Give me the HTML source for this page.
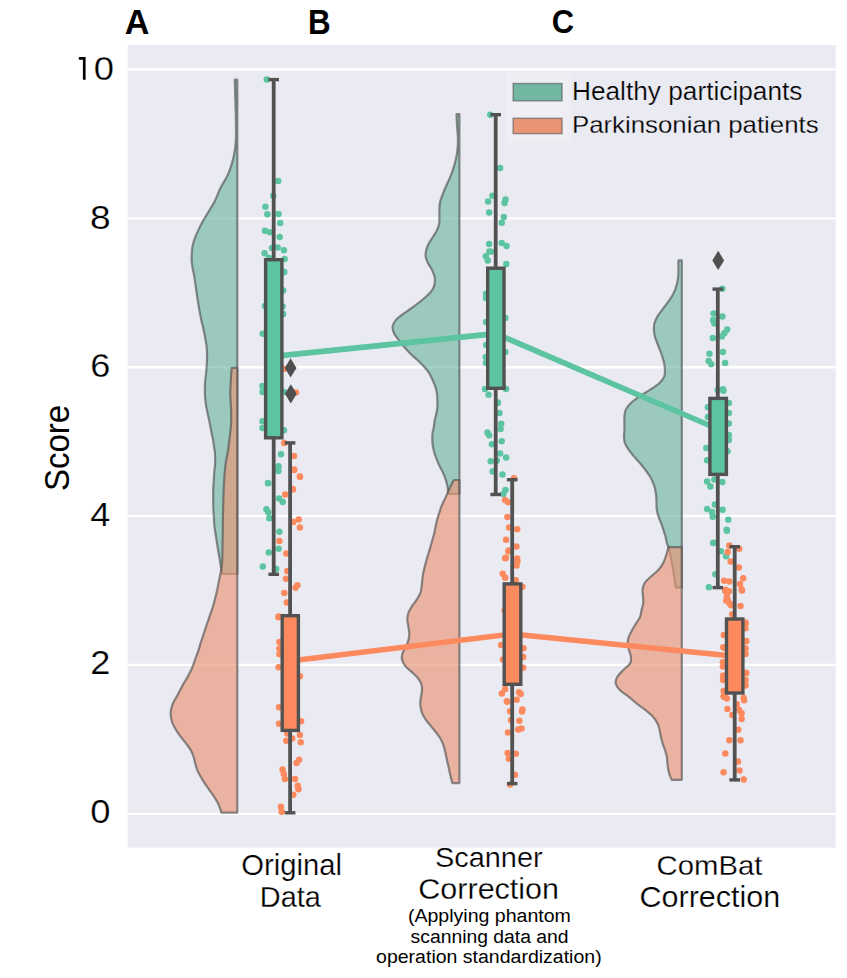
<!DOCTYPE html><html><head><meta charset="utf-8"><style>html,body{margin:0;padding:0;background:#fff;}svg{display:block;font-family:"Liberation Sans",sans-serif;font-kerning:none;}text{font-kerning:none;}</style></head><body>
<svg width="847" height="978" viewBox="0 0 847 978">
<rect x="0" y="0" width="847" height="978" fill="#fff"/>
<rect x="127.7" y="45" width="708.1" height="802.7" fill="#EAEAF2"/>
<line x1="127.7" x2="835.8" y1="813.80" y2="813.80" stroke="#fff" stroke-width="2.35"/>
<line x1="127.7" x2="835.8" y1="664.94" y2="664.94" stroke="#fff" stroke-width="2.35"/>
<line x1="127.7" x2="835.8" y1="516.08" y2="516.08" stroke="#fff" stroke-width="2.35"/>
<line x1="127.7" x2="835.8" y1="367.22" y2="367.22" stroke="#fff" stroke-width="2.35"/>
<line x1="127.7" x2="835.8" y1="218.36" y2="218.36" stroke="#fff" stroke-width="2.35"/>
<line x1="127.7" x2="835.8" y1="69.50" y2="69.50" stroke="#fff" stroke-width="2.35"/>
<path d="M237.30,79.70 L234.80,79.70 C234.87,82.25 235.03,89.12 235.20,95.00 C235.37,100.88 235.67,108.33 235.80,115.00 C235.93,121.67 236.10,129.50 236.00,135.00 C235.90,140.50 235.78,143.60 235.20,148.00 C234.62,152.40 233.72,156.95 232.50,161.40 C231.28,165.85 229.90,170.27 227.90,174.70 C225.90,179.13 222.72,183.52 220.50,188.00 C218.28,192.48 216.25,198.22 214.60,201.60 C212.95,204.98 211.93,206.08 210.60,208.30 C209.27,210.52 207.93,212.68 206.60,214.90 C205.27,217.12 203.82,219.38 202.60,221.60 C201.38,223.82 200.37,225.98 199.30,228.20 C198.23,230.42 197.13,232.68 196.20,234.90 C195.27,237.12 194.37,239.28 193.70,241.50 C193.03,243.72 192.53,245.98 192.20,248.20 C191.87,250.42 191.78,252.58 191.70,254.80 C191.62,257.02 191.55,259.28 191.70,261.50 C191.85,263.72 192.22,265.88 192.60,268.10 C192.98,270.32 193.60,272.58 194.00,274.80 C194.40,277.02 194.67,279.20 195.00,281.40 C195.33,283.60 195.68,285.78 196.00,288.00 C196.32,290.22 196.58,292.48 196.90,294.70 C197.22,296.92 197.55,299.08 197.90,301.30 C198.25,303.52 198.62,305.78 199.00,308.00 C199.38,310.22 199.77,312.35 200.20,314.60 C200.63,316.85 201.15,319.50 201.60,321.50 C202.05,323.50 202.45,324.63 202.90,326.60 C203.35,328.57 203.87,331.08 204.30,333.30 C204.73,335.52 205.12,337.68 205.50,339.90 C205.88,342.12 206.35,344.38 206.60,346.60 C206.85,348.82 206.93,350.98 207.00,353.20 C207.07,355.42 207.07,357.68 207.00,359.90 C206.93,362.12 206.75,364.28 206.60,366.50 C206.45,368.72 206.32,370.98 206.10,373.20 C205.88,375.42 205.50,377.58 205.30,379.80 C205.10,382.02 204.97,384.28 204.90,386.50 C204.83,388.72 204.83,390.88 204.90,393.10 C204.97,395.32 205.08,397.58 205.30,399.80 C205.52,402.02 205.83,404.20 206.20,406.40 C206.57,408.60 207.03,410.78 207.50,413.00 C207.97,415.22 208.53,417.48 209.00,419.70 C209.47,421.92 209.87,424.08 210.30,426.30 C210.73,428.52 211.15,430.78 211.60,433.00 C212.05,435.22 212.58,437.27 213.00,439.60 C213.42,441.93 213.80,445.00 214.10,447.00 C214.40,449.00 214.62,449.72 214.80,451.60 C214.98,453.48 215.17,456.08 215.20,458.30 C215.23,460.52 215.15,462.68 215.00,464.90 C214.85,467.12 214.48,469.38 214.30,471.60 C214.12,473.82 214.03,475.98 213.90,478.20 C213.77,480.42 213.62,482.68 213.50,484.90 C213.38,487.12 213.25,489.28 213.20,491.50 C213.15,493.72 213.20,495.98 213.20,498.20 C213.20,500.42 213.15,502.58 213.20,504.80 C213.25,507.02 213.38,509.28 213.50,511.50 C213.62,513.72 213.77,515.88 213.90,518.10 C214.03,520.32 214.08,522.58 214.30,524.80 C214.52,527.02 214.88,529.20 215.20,531.40 C215.52,533.60 215.87,535.78 216.20,538.00 C216.53,540.22 216.85,542.48 217.20,544.70 C217.55,546.92 217.92,549.08 218.30,551.30 C218.68,553.52 219.13,555.78 219.50,558.00 C219.87,560.22 220.17,562.60 220.50,564.60 C220.83,566.60 221.25,568.43 221.50,570.00 C221.75,571.57 221.92,573.33 222.00,574.00 L237.30,574.00 Z" fill="#71B7A1" fill-opacity="0.65" stroke="#525252" stroke-opacity="0.65" stroke-width="2.2" stroke-linejoin="round"/>
<path d="M237.30,367.90 L231.80,367.90 C231.70,368.78 231.35,371.22 231.20,373.20 C231.05,375.18 231.02,377.58 230.90,379.80 C230.78,382.02 230.62,384.28 230.50,386.50 C230.38,388.72 230.20,390.88 230.20,393.10 C230.20,395.32 230.38,397.58 230.50,399.80 C230.62,402.02 230.78,404.20 230.90,406.40 C231.02,408.60 231.15,410.78 231.20,413.00 C231.25,415.22 231.25,417.48 231.20,419.70 C231.15,421.92 231.07,424.08 230.90,426.30 C230.73,428.52 230.45,430.78 230.20,433.00 C229.95,435.22 229.67,437.43 229.40,439.60 C229.13,441.77 228.85,444.00 228.60,446.00 C228.35,448.00 228.25,449.55 227.90,451.60 C227.55,453.65 226.90,456.08 226.50,458.30 C226.10,460.52 225.78,462.68 225.50,464.90 C225.22,467.12 225.00,469.38 224.80,471.60 C224.60,473.82 224.45,475.98 224.30,478.20 C224.15,480.42 224.02,482.68 223.90,484.90 C223.78,487.12 223.72,488.18 223.60,491.50 C223.48,494.82 223.32,500.37 223.20,504.80 C223.08,509.23 222.97,513.67 222.90,518.10 C222.83,522.53 222.87,526.97 222.80,531.40 C222.73,535.83 222.58,540.27 222.50,544.70 C222.42,549.13 222.40,554.68 222.30,558.00 C222.20,561.32 222.08,562.60 221.90,564.60 C221.72,566.60 221.55,567.98 221.20,570.00 C220.85,572.02 220.25,574.48 219.80,576.70 C219.35,578.92 218.93,581.08 218.50,583.30 C218.07,585.52 217.68,587.78 217.20,590.00 C216.72,592.22 216.15,594.38 215.60,596.60 C215.05,598.82 214.52,601.08 213.90,603.30 C213.28,605.52 212.63,607.68 211.90,609.90 C211.17,612.12 210.28,614.38 209.50,616.60 C208.72,618.82 207.95,620.98 207.20,623.20 C206.45,625.42 205.73,627.68 205.00,629.90 C204.27,632.12 203.53,634.28 202.80,636.50 C202.07,638.72 201.30,640.98 200.60,643.20 C199.90,645.42 199.33,647.58 198.60,649.80 C197.87,652.02 196.98,654.28 196.20,656.50 C195.42,658.72 194.72,660.88 193.90,663.10 C193.08,665.32 192.30,667.58 191.30,669.80 C190.30,672.02 189.13,674.18 187.90,676.40 C186.67,678.62 185.17,680.87 183.90,683.10 C182.63,685.33 181.52,687.53 180.30,689.80 C179.08,692.07 177.82,694.45 176.60,696.70 C175.38,698.95 173.93,701.08 173.00,703.30 C172.07,705.52 171.35,707.78 171.00,710.00 C170.65,712.22 170.63,714.38 170.90,716.60 C171.17,718.82 171.75,721.08 172.60,723.30 C173.45,725.52 174.67,727.68 176.00,729.90 C177.33,732.12 178.95,734.38 180.60,736.60 C182.25,738.82 184.23,740.98 185.90,743.20 C187.57,745.42 189.33,747.68 190.60,749.90 C191.87,752.12 192.73,754.28 193.50,756.50 C194.27,758.72 194.58,760.98 195.20,763.20 C195.82,765.42 196.30,767.58 197.20,769.80 C198.10,772.02 199.37,774.28 200.60,776.50 C201.83,778.72 203.17,780.88 204.60,783.10 C206.03,785.32 207.65,787.58 209.20,789.80 C210.75,792.02 212.45,794.18 213.90,796.40 C215.35,798.62 216.80,800.88 217.90,803.10 C219.00,805.32 219.95,808.12 220.50,809.70 C221.05,811.28 221.08,812.12 221.20,812.60 L237.30,812.60 Z" fill="#E99575" fill-opacity="0.65" stroke="#525252" stroke-opacity="0.65" stroke-width="2.2" stroke-linejoin="round"/>
<path d="M459.40,114.20 L456.50,114.20 C456.58,116.07 456.78,121.82 457.00,125.40 C457.22,128.98 457.67,132.28 457.80,135.70 C457.93,139.12 458.02,142.50 457.80,145.90 C457.58,149.30 457.13,152.70 456.50,156.10 C455.87,159.50 455.02,162.88 454.00,166.30 C452.98,169.72 451.77,173.18 450.40,176.60 C449.03,180.02 447.25,183.40 445.80,186.80 C444.35,190.20 442.70,194.25 441.70,197.00 C440.70,199.75 440.18,201.15 439.80,203.30 C439.42,205.45 439.47,207.68 439.40,209.90 C439.33,212.12 439.43,214.38 439.40,216.60 C439.37,218.82 439.57,221.00 439.20,223.20 C438.83,225.40 438.20,227.58 437.20,229.80 C436.20,232.02 434.57,234.28 433.20,236.50 C431.83,238.72 430.15,240.88 429.00,243.10 C427.85,245.32 426.87,247.58 426.30,249.80 C425.73,252.02 425.33,254.20 425.60,256.40 C425.87,258.60 426.85,260.78 427.90,263.00 C428.95,265.22 430.80,267.48 431.90,269.70 C433.00,271.92 434.02,274.08 434.50,276.30 C434.98,278.52 435.13,280.78 434.80,283.00 C434.47,285.22 433.88,287.38 432.50,289.60 C431.12,291.82 428.75,294.15 426.50,296.30 C424.25,298.45 421.58,300.47 419.00,302.50 C416.42,304.53 413.62,306.62 411.00,308.50 C408.38,310.38 405.80,311.90 403.30,313.80 C400.80,315.70 397.78,317.77 396.00,319.90 C394.22,322.03 392.93,324.38 392.60,326.60 C392.27,328.82 393.00,330.98 394.00,333.20 C395.00,335.42 396.95,337.68 398.60,339.90 C400.25,342.12 402.02,344.28 403.90,346.50 C405.78,348.72 407.68,350.98 409.90,353.20 C412.12,355.42 414.87,357.58 417.20,359.80 C419.53,362.02 421.90,364.28 423.90,366.50 C425.90,368.72 427.77,370.88 429.20,373.10 C430.63,375.32 431.50,377.58 432.50,379.80 C433.50,382.02 434.47,384.18 435.20,386.40 C435.93,388.62 436.53,390.88 436.90,393.10 C437.27,395.32 437.32,397.48 437.40,399.70 C437.48,401.92 437.55,404.18 437.40,406.40 C437.25,408.62 436.93,410.80 436.50,413.00 C436.07,415.20 435.23,417.33 434.80,419.60 C434.37,421.87 434.28,424.32 433.90,426.60 C433.52,428.88 432.77,431.08 432.50,433.30 C432.23,435.52 432.23,437.68 432.30,439.90 C432.37,442.12 432.53,444.38 432.90,446.60 C433.27,448.82 433.83,451.00 434.50,453.20 C435.17,455.40 436.02,457.58 436.90,459.80 C437.78,462.02 438.75,464.28 439.80,466.50 C440.85,468.72 442.20,470.88 443.20,473.10 C444.20,475.32 445.08,477.58 445.80,479.80 C446.52,482.02 447.12,484.42 447.50,486.40 C447.88,488.38 447.97,490.45 448.10,491.70 C448.23,492.95 448.27,493.53 448.30,493.90 L459.40,493.90 Z" fill="#71B7A1" fill-opacity="0.65" stroke="#525252" stroke-opacity="0.65" stroke-width="2.2" stroke-linejoin="round"/>
<path d="M459.40,480.00 L453.80,480.00 C453.25,481.07 451.45,484.45 450.50,486.40 C449.55,488.35 449.10,489.48 448.10,491.70 C447.10,493.92 445.62,497.27 444.50,499.70 C443.38,502.13 442.28,504.08 441.40,506.30 C440.52,508.52 439.90,510.78 439.20,513.00 C438.50,515.22 437.80,517.38 437.20,519.60 C436.60,521.82 436.08,524.08 435.60,526.30 C435.12,528.52 434.82,530.70 434.30,532.90 C433.78,535.10 433.13,537.22 432.50,539.50 C431.87,541.78 431.17,544.30 430.50,546.60 C429.83,548.90 429.17,551.08 428.50,553.30 C427.83,555.52 427.12,557.68 426.50,559.90 C425.88,562.12 425.35,564.38 424.80,566.60 C424.25,568.82 423.62,571.00 423.20,573.20 C422.78,575.40 422.57,577.58 422.30,579.80 C422.03,582.02 421.93,584.28 421.60,586.50 C421.27,588.72 421.13,590.88 420.30,593.10 C419.47,595.32 418.00,597.58 416.60,599.80 C415.20,602.02 413.28,604.20 411.90,606.40 C410.52,608.60 409.07,610.78 408.30,613.00 C407.53,615.22 407.30,617.48 407.30,619.70 C407.30,621.92 407.97,624.08 408.30,626.30 C408.63,628.52 409.25,630.78 409.30,633.00 C409.35,635.22 409.12,637.38 408.60,639.60 C408.08,641.82 407.20,644.08 406.20,646.30 C405.20,648.52 403.30,650.70 402.60,652.90 C401.90,655.10 401.52,657.25 402.00,659.50 C402.48,661.75 403.63,664.10 405.50,666.40 C407.37,668.70 410.92,671.05 413.20,673.30 C415.48,675.55 417.75,677.68 419.20,679.90 C420.65,682.12 421.50,684.38 421.90,686.60 C422.30,688.82 421.83,691.00 421.60,693.20 C421.37,695.40 420.68,697.58 420.50,699.80 C420.32,702.02 420.23,704.28 420.50,706.50 C420.77,708.72 421.20,710.88 422.10,713.10 C423.00,715.32 424.38,717.58 425.90,719.80 C427.42,722.02 429.43,724.20 431.20,726.40 C432.97,728.60 434.85,730.78 436.50,733.00 C438.15,735.22 439.88,737.48 441.10,739.70 C442.32,741.92 443.07,744.08 443.80,746.30 C444.53,748.52 445.00,750.78 445.50,753.00 C446.00,755.22 446.32,757.38 446.80,759.60 C447.28,761.82 447.90,764.08 448.40,766.30 C448.90,768.52 449.30,770.70 449.80,772.90 C450.30,775.10 450.97,777.80 451.40,779.50 C451.83,781.20 452.23,782.50 452.40,783.10 L459.40,783.10 Z" fill="#E99575" fill-opacity="0.65" stroke="#525252" stroke-opacity="0.65" stroke-width="2.2" stroke-linejoin="round"/>
<path d="M681.80,260.40 L678.40,260.40 C678.40,261.98 678.43,267.20 678.40,269.90 C678.37,272.60 678.42,274.38 678.20,276.60 C677.98,278.82 677.62,281.00 677.10,283.20 C676.58,285.40 675.98,287.58 675.10,289.80 C674.22,292.02 673.12,294.28 671.80,296.50 C670.48,298.72 668.80,300.88 667.20,303.10 C665.60,305.32 663.82,307.58 662.20,309.80 C660.58,312.02 658.78,314.20 657.50,316.40 C656.22,318.60 655.10,320.78 654.50,323.00 C653.90,325.22 653.85,327.48 653.90,329.70 C653.95,331.92 654.25,334.08 654.80,336.30 C655.35,338.52 656.37,340.78 657.20,343.00 C658.03,345.22 658.97,347.38 659.80,349.60 C660.63,351.82 661.48,354.08 662.20,356.30 C662.92,358.52 663.65,360.70 664.10,362.90 C664.55,365.10 664.88,367.22 664.90,369.50 C664.92,371.78 665.15,374.30 664.20,376.60 C663.25,378.90 661.58,381.08 659.20,383.30 C656.82,385.52 653.23,387.68 649.90,389.90 C646.57,392.12 642.42,394.38 639.20,396.60 C635.98,398.82 632.85,400.98 630.60,403.20 C628.35,405.42 626.73,407.68 625.70,409.90 C624.67,412.12 624.62,414.28 624.40,416.50 C624.18,418.72 624.40,420.98 624.40,423.20 C624.40,425.42 624.47,427.60 624.40,429.80 C624.33,432.00 623.92,434.18 624.00,436.40 C624.08,438.62 624.13,440.88 624.90,443.10 C625.67,445.32 627.10,447.48 628.60,449.70 C630.10,451.92 632.02,454.18 633.90,456.40 C635.78,458.62 638.02,460.78 639.90,463.00 C641.78,465.22 643.53,467.48 645.20,469.70 C646.87,471.92 648.57,474.08 649.90,476.30 C651.23,478.52 652.32,480.78 653.20,483.00 C654.08,485.22 654.70,487.33 655.20,489.60 C655.70,491.87 655.98,494.32 656.20,496.60 C656.42,498.88 656.40,501.08 656.50,503.30 C656.60,505.52 656.47,507.68 656.80,509.90 C657.13,512.12 657.77,514.38 658.50,516.60 C659.23,518.82 660.38,520.98 661.20,523.20 C662.02,525.42 662.68,527.68 663.40,529.90 C664.12,532.12 664.92,534.28 665.50,536.50 C666.08,538.72 666.40,541.43 666.90,543.20 C667.40,544.97 667.90,544.90 668.50,547.10 C669.10,549.30 669.73,552.63 670.50,556.40 C671.27,560.17 672.33,565.27 673.10,569.70 C673.87,574.13 674.65,580.00 675.10,583.00 C675.55,586.00 675.68,586.92 675.80,587.70 L681.80,587.70 Z" fill="#71B7A1" fill-opacity="0.65" stroke="#525252" stroke-opacity="0.65" stroke-width="2.2" stroke-linejoin="round"/>
<path d="M681.80,547.10 L668.50,547.10 C668.05,548.65 666.68,553.73 665.80,556.40 C664.92,559.07 664.42,560.88 663.20,563.10 C661.98,565.32 660.50,567.48 658.50,569.70 C656.50,571.92 653.52,574.18 651.20,576.40 C648.88,578.62 646.03,580.78 644.60,583.00 C643.17,585.22 642.87,587.48 642.60,589.70 C642.33,591.92 642.90,594.08 643.00,596.30 C643.10,598.52 643.43,600.75 643.20,603.00 C642.97,605.25 642.10,607.53 641.60,609.80 C641.10,612.07 641.10,614.35 640.20,616.60 C639.30,618.85 637.53,621.08 636.20,623.30 C634.87,625.52 633.42,627.68 632.20,629.90 C630.98,632.12 629.67,634.38 628.90,636.60 C628.13,638.82 627.60,640.98 627.60,643.20 C627.60,645.42 628.35,647.68 628.90,649.90 C629.45,652.12 630.68,654.28 630.90,656.50 C631.12,658.72 631.42,660.98 630.20,663.20 C628.98,665.42 625.70,667.60 623.60,669.80 C621.50,672.00 618.93,674.18 617.60,676.40 C616.27,678.62 615.27,680.88 615.60,683.10 C615.93,685.32 617.48,687.48 619.60,689.70 C621.72,691.92 625.57,694.18 628.30,696.40 C631.03,698.62 633.22,700.78 636.00,703.00 C638.78,705.22 642.25,707.48 645.00,709.70 C647.75,711.92 650.45,714.08 652.50,716.30 C654.55,718.52 656.13,720.78 657.30,723.00 C658.47,725.22 658.92,727.33 659.50,729.60 C660.08,731.87 660.30,734.37 660.80,736.60 C661.30,738.83 661.80,740.77 662.50,743.00 C663.20,745.23 664.28,747.75 665.00,750.00 C665.72,752.25 666.40,754.33 666.80,756.50 C667.20,758.67 667.15,760.78 667.40,763.00 C667.65,765.22 667.90,767.72 668.30,769.80 C668.70,771.88 669.22,773.83 669.80,775.50 C670.38,777.17 671.47,779.08 671.80,779.80 L681.80,779.80 Z" fill="#E99575" fill-opacity="0.65" stroke="#525252" stroke-opacity="0.65" stroke-width="2.2" stroke-linejoin="round"/>
<g fill="#5DC4A1">
<circle cx="266.8" cy="79.6" r="3.25"/>
<circle cx="278.2" cy="181.0" r="3.25"/>
<circle cx="273.2" cy="195.8" r="3.25"/>
<circle cx="265.4" cy="206.7" r="3.25"/>
<circle cx="267.4" cy="214.3" r="3.25"/>
<circle cx="278.5" cy="213.9" r="3.25"/>
<circle cx="280.2" cy="222.9" r="3.25"/>
<circle cx="265.0" cy="230.7" r="3.25"/>
<circle cx="269.9" cy="232.3" r="3.25"/>
<circle cx="279.7" cy="236.9" r="3.25"/>
<circle cx="272.0" cy="247.9" r="3.25"/>
<circle cx="277.7" cy="247.4" r="3.25"/>
<circle cx="283.9" cy="250.3" r="3.25"/>
<circle cx="264.6" cy="253.3" r="3.25"/>
<circle cx="269.0" cy="257.7" r="3.25"/>
<circle cx="284.6" cy="259.0" r="3.25"/>
<circle cx="284.3" cy="272.1" r="3.25"/>
<circle cx="283.1" cy="290.4" r="3.25"/>
<circle cx="265.0" cy="306.0" r="3.25"/>
<circle cx="282.6" cy="306.4" r="3.25"/>
<circle cx="283.1" cy="314.1" r="3.25"/>
<circle cx="262.7" cy="333.7" r="3.25"/>
<circle cx="262.5" cy="386.0" r="3.25"/>
<circle cx="262.5" cy="392.0" r="3.25"/>
<circle cx="283.9" cy="392.0" r="3.25"/>
<circle cx="262.5" cy="421.3" r="3.25"/>
<circle cx="262.5" cy="428.0" r="3.25"/>
<circle cx="283.9" cy="430.3" r="3.25"/>
<circle cx="281.0" cy="454.3" r="3.25"/>
<circle cx="278.5" cy="466.3" r="3.25"/>
<circle cx="278.3" cy="471.0" r="3.25"/>
<circle cx="268.2" cy="483.2" r="3.25"/>
<circle cx="278.1" cy="470.0" r="3.25"/>
<circle cx="268.0" cy="483.1" r="3.25"/>
<circle cx="279.1" cy="498.6" r="3.25"/>
<circle cx="282.7" cy="501.9" r="3.25"/>
<circle cx="266.4" cy="509.3" r="3.25"/>
<circle cx="268.3" cy="512.2" r="3.25"/>
<circle cx="269.3" cy="518.2" r="3.25"/>
<circle cx="279.4" cy="531.8" r="3.25"/>
<circle cx="278.6" cy="548.8" r="3.25"/>
<circle cx="268.8" cy="552.6" r="3.25"/>
<circle cx="262.8" cy="566.5" r="3.25"/>
<circle cx="276.2" cy="569.0" r="3.25"/>
<circle cx="490.3" cy="114.7" r="3.25"/>
<circle cx="500.1" cy="167.9" r="3.25"/>
<circle cx="492.4" cy="195.7" r="3.25"/>
<circle cx="488.1" cy="201.4" r="3.25"/>
<circle cx="505.5" cy="199.4" r="3.25"/>
<circle cx="504.5" cy="203.0" r="3.25"/>
<circle cx="489.1" cy="212.5" r="3.25"/>
<circle cx="503.8" cy="216.9" r="3.25"/>
<circle cx="501.7" cy="222.7" r="3.25"/>
<circle cx="489.1" cy="243.9" r="3.25"/>
<circle cx="501.7" cy="243.1" r="3.25"/>
<circle cx="506.6" cy="246.1" r="3.25"/>
<circle cx="491.1" cy="251.8" r="3.25"/>
<circle cx="485.8" cy="256.2" r="3.25"/>
<circle cx="489.4" cy="251.6" r="3.25"/>
<circle cx="487.8" cy="260.6" r="3.25"/>
<circle cx="506.3" cy="263.9" r="3.25"/>
<circle cx="486.0" cy="293.8" r="3.25"/>
<circle cx="486.0" cy="298.0" r="3.25"/>
<circle cx="505.3" cy="317.9" r="3.25"/>
<circle cx="486.2" cy="322.0" r="3.25"/>
<circle cx="486.2" cy="345.0" r="3.25"/>
<circle cx="485.8" cy="357.1" r="3.25"/>
<circle cx="486.0" cy="363.0" r="3.25"/>
<circle cx="505.3" cy="352.0" r="3.25"/>
<circle cx="488.6" cy="394.8" r="3.25"/>
<circle cx="497.6" cy="402.9" r="3.25"/>
<circle cx="485.0" cy="389.0" r="3.25"/>
<circle cx="506.0" cy="389.0" r="3.25"/>
<circle cx="497.9" cy="402.5" r="3.25"/>
<circle cx="499.3" cy="413.1" r="3.25"/>
<circle cx="501.2" cy="423.7" r="3.25"/>
<circle cx="500.6" cy="429.1" r="3.25"/>
<circle cx="487.5" cy="432.4" r="3.25"/>
<circle cx="489.1" cy="435.2" r="3.25"/>
<circle cx="501.7" cy="441.2" r="3.25"/>
<circle cx="491.9" cy="444.2" r="3.25"/>
<circle cx="500.1" cy="453.6" r="3.25"/>
<circle cx="506.1" cy="457.6" r="3.25"/>
<circle cx="490.7" cy="461.3" r="3.25"/>
<circle cx="496.8" cy="460.5" r="3.25"/>
<circle cx="492.7" cy="471.6" r="3.25"/>
<circle cx="502.5" cy="474.4" r="3.25"/>
<circle cx="505.5" cy="490.0" r="3.25"/>
<circle cx="503.3" cy="494.0" r="3.25"/>
<circle cx="722.3" cy="288.7" r="3.25"/>
<circle cx="713.6" cy="313.6" r="3.25"/>
<circle cx="722.3" cy="316.5" r="3.25"/>
<circle cx="713.1" cy="320.1" r="3.25"/>
<circle cx="714.4" cy="323.4" r="3.25"/>
<circle cx="727.2" cy="329.6" r="3.25"/>
<circle cx="724.3" cy="333.2" r="3.25"/>
<circle cx="721.8" cy="336.5" r="3.25"/>
<circle cx="712.8" cy="338.1" r="3.25"/>
<circle cx="709.5" cy="353.7" r="3.25"/>
<circle cx="722.9" cy="352.0" r="3.25"/>
<circle cx="708.7" cy="361.0" r="3.25"/>
<circle cx="711.2" cy="364.3" r="3.25"/>
<circle cx="725.1" cy="363.0" r="3.25"/>
<circle cx="722.9" cy="389.2" r="3.25"/>
<circle cx="717.7" cy="390.1" r="3.25"/>
<circle cx="723.4" cy="390.8" r="3.25"/>
<circle cx="707.9" cy="407.2" r="3.25"/>
<circle cx="728.8" cy="403.1" r="3.25"/>
<circle cx="728.8" cy="412.9" r="3.25"/>
<circle cx="707.9" cy="417.0" r="3.25"/>
<circle cx="728.8" cy="423.5" r="3.25"/>
<circle cx="728.8" cy="435.0" r="3.25"/>
<circle cx="728.8" cy="439.9" r="3.25"/>
<circle cx="706.3" cy="448.1" r="3.25"/>
<circle cx="727.5" cy="451.3" r="3.25"/>
<circle cx="707.1" cy="460.3" r="3.25"/>
<circle cx="707.1" cy="481.6" r="3.25"/>
<circle cx="710.4" cy="486.5" r="3.25"/>
<circle cx="714.4" cy="479.6" r="3.25"/>
<circle cx="722.3" cy="481.9" r="3.25"/>
<circle cx="714.8" cy="504.5" r="3.25"/>
<circle cx="707.1" cy="509.1" r="3.25"/>
<circle cx="712.0" cy="511.9" r="3.25"/>
<circle cx="722.6" cy="509.7" r="3.25"/>
<circle cx="712.8" cy="516.8" r="3.25"/>
<circle cx="728.3" cy="519.7" r="3.25"/>
<circle cx="726.7" cy="529.8" r="3.25"/>
<circle cx="713.6" cy="542.9" r="3.25"/>
<circle cx="726.9" cy="530.8" r="3.25"/>
<circle cx="713.3" cy="542.8" r="3.25"/>
<circle cx="720.8" cy="551.3" r="3.25"/>
<circle cx="726.1" cy="556.2" r="3.25"/>
<circle cx="715.4" cy="574.2" r="3.25"/>
<circle cx="708.9" cy="587.2" r="3.25"/>
</g>
<g fill="#FC8A5E">
<circle cx="283.9" cy="369.0" r="3.25"/>
<circle cx="296.0" cy="392.6" r="3.25"/>
<circle cx="284.2" cy="443.0" r="3.25"/>
<circle cx="294.0" cy="456.0" r="3.25"/>
<circle cx="294.1" cy="469.5" r="3.25"/>
<circle cx="300.0" cy="476.8" r="3.25"/>
<circle cx="292.5" cy="489.0" r="3.25"/>
<circle cx="294.2" cy="470.0" r="3.25"/>
<circle cx="299.9" cy="476.5" r="3.25"/>
<circle cx="292.9" cy="489.6" r="3.25"/>
<circle cx="285.2" cy="494.5" r="3.25"/>
<circle cx="298.7" cy="519.4" r="3.25"/>
<circle cx="293.3" cy="522.0" r="3.25"/>
<circle cx="299.9" cy="527.6" r="3.25"/>
<circle cx="279.4" cy="541.1" r="3.25"/>
<circle cx="286.3" cy="553.4" r="3.25"/>
<circle cx="287.3" cy="571.1" r="3.25"/>
<circle cx="286.0" cy="578.8" r="3.25"/>
<circle cx="297.4" cy="585.3" r="3.25"/>
<circle cx="295.5" cy="587.8" r="3.25"/>
<circle cx="284.3" cy="593.0" r="3.25"/>
<circle cx="286.8" cy="602.5" r="3.25"/>
<circle cx="278.6" cy="617.2" r="3.25"/>
<circle cx="278.6" cy="616.5" r="3.25"/>
<circle cx="279.4" cy="641.9" r="3.25"/>
<circle cx="279.4" cy="648.4" r="3.25"/>
<circle cx="279.4" cy="654.2" r="3.25"/>
<circle cx="278.6" cy="667.2" r="3.25"/>
<circle cx="299.9" cy="676.2" r="3.25"/>
<circle cx="279.1" cy="707.3" r="3.25"/>
<circle cx="301.0" cy="721.2" r="3.25"/>
<circle cx="279.1" cy="723.7" r="3.25"/>
<circle cx="287.3" cy="733.5" r="3.25"/>
<circle cx="292.2" cy="738.4" r="3.25"/>
<circle cx="299.9" cy="735.1" r="3.25"/>
<circle cx="286.3" cy="740.8" r="3.25"/>
<circle cx="300.7" cy="742.2" r="3.25"/>
<circle cx="299.1" cy="759.7" r="3.25"/>
<circle cx="296.6" cy="762.9" r="3.25"/>
<circle cx="282.6" cy="769.5" r="3.25"/>
<circle cx="283.8" cy="774.0" r="3.25"/>
<circle cx="284.9" cy="779.1" r="3.25"/>
<circle cx="295.0" cy="779.1" r="3.25"/>
<circle cx="297.8" cy="785.8" r="3.25"/>
<circle cx="298.4" cy="789.2" r="3.25"/>
<circle cx="293.3" cy="794.8" r="3.25"/>
<circle cx="280.9" cy="806.7" r="3.25"/>
<circle cx="281.7" cy="811.7" r="3.25"/>
<circle cx="514.0" cy="478.2" r="3.25"/>
<circle cx="505.0" cy="500.1" r="3.25"/>
<circle cx="508.2" cy="502.2" r="3.25"/>
<circle cx="507.4" cy="517.0" r="3.25"/>
<circle cx="509.1" cy="527.6" r="3.25"/>
<circle cx="517.2" cy="529.2" r="3.25"/>
<circle cx="506.1" cy="539.8" r="3.25"/>
<circle cx="516.4" cy="546.4" r="3.25"/>
<circle cx="508.7" cy="550.5" r="3.25"/>
<circle cx="505.8" cy="557.8" r="3.25"/>
<circle cx="517.2" cy="558.6" r="3.25"/>
<circle cx="508.4" cy="551.6" r="3.25"/>
<circle cx="505.2" cy="558.2" r="3.25"/>
<circle cx="517.4" cy="561.4" r="3.25"/>
<circle cx="516.6" cy="565.5" r="3.25"/>
<circle cx="502.7" cy="573.7" r="3.25"/>
<circle cx="505.2" cy="577.8" r="3.25"/>
<circle cx="515.8" cy="580.3" r="3.25"/>
<circle cx="522.3" cy="586.8" r="3.25"/>
<circle cx="504.6" cy="610.5" r="3.25"/>
<circle cx="501.1" cy="644.9" r="3.25"/>
<circle cx="523.5" cy="648.3" r="3.25"/>
<circle cx="523.2" cy="657.1" r="3.25"/>
<circle cx="503.0" cy="659.6" r="3.25"/>
<circle cx="523.2" cy="667.8" r="3.25"/>
<circle cx="505.2" cy="689.0" r="3.25"/>
<circle cx="501.9" cy="693.6" r="3.25"/>
<circle cx="519.1" cy="692.3" r="3.25"/>
<circle cx="520.7" cy="694.0" r="3.25"/>
<circle cx="506.8" cy="701.3" r="3.25"/>
<circle cx="516.6" cy="699.7" r="3.25"/>
<circle cx="522.3" cy="709.5" r="3.25"/>
<circle cx="507.3" cy="701.8" r="3.25"/>
<circle cx="510.1" cy="711.3" r="3.25"/>
<circle cx="522.0" cy="711.6" r="3.25"/>
<circle cx="510.9" cy="720.3" r="3.25"/>
<circle cx="519.4" cy="720.7" r="3.25"/>
<circle cx="518.2" cy="729.6" r="3.25"/>
<circle cx="521.5" cy="728.4" r="3.25"/>
<circle cx="508.0" cy="732.5" r="3.25"/>
<circle cx="507.6" cy="753.0" r="3.25"/>
<circle cx="515.8" cy="753.8" r="3.25"/>
<circle cx="508.9" cy="758.7" r="3.25"/>
<circle cx="515.0" cy="774.7" r="3.25"/>
<circle cx="510.1" cy="784.5" r="3.25"/>
<circle cx="729.3" cy="545.5" r="3.25"/>
<circle cx="739.2" cy="548.8" r="3.25"/>
<circle cx="727.7" cy="552.1" r="3.25"/>
<circle cx="730.7" cy="561.6" r="3.25"/>
<circle cx="738.8" cy="567.6" r="3.25"/>
<circle cx="743.2" cy="578.2" r="3.25"/>
<circle cx="724.1" cy="580.7" r="3.25"/>
<circle cx="729.3" cy="581.5" r="3.25"/>
<circle cx="740.0" cy="584.0" r="3.25"/>
<circle cx="741.6" cy="589.2" r="3.25"/>
<circle cx="725.3" cy="589.7" r="3.25"/>
<circle cx="729.0" cy="591.3" r="3.25"/>
<circle cx="726.9" cy="597.1" r="3.25"/>
<circle cx="727.7" cy="600.3" r="3.25"/>
<circle cx="731.0" cy="605.2" r="3.25"/>
<circle cx="740.5" cy="606.1" r="3.25"/>
<circle cx="732.3" cy="614.2" r="3.25"/>
<circle cx="745.7" cy="623.2" r="3.25"/>
<circle cx="746.0" cy="641.2" r="3.25"/>
<circle cx="744.9" cy="648.6" r="3.25"/>
<circle cx="724.1" cy="647.8" r="3.25"/>
<circle cx="724.1" cy="663.3" r="3.25"/>
<circle cx="746.0" cy="673.1" r="3.25"/>
<circle cx="724.1" cy="677.2" r="3.25"/>
<circle cx="744.9" cy="684.6" r="3.25"/>
<circle cx="723.6" cy="676.5" r="3.25"/>
<circle cx="745.7" cy="672.9" r="3.25"/>
<circle cx="723.6" cy="696.2" r="3.25"/>
<circle cx="726.9" cy="698.6" r="3.25"/>
<circle cx="744.1" cy="700.3" r="3.25"/>
<circle cx="736.7" cy="704.3" r="3.25"/>
<circle cx="727.4" cy="708.9" r="3.25"/>
<circle cx="739.2" cy="710.1" r="3.25"/>
<circle cx="732.3" cy="715.0" r="3.25"/>
<circle cx="741.6" cy="713.3" r="3.25"/>
<circle cx="741.6" cy="719.1" r="3.25"/>
<circle cx="738.3" cy="729.7" r="3.25"/>
<circle cx="729.3" cy="740.3" r="3.25"/>
<circle cx="740.5" cy="740.3" r="3.25"/>
<circle cx="725.3" cy="753.4" r="3.25"/>
<circle cx="737.9" cy="761.6" r="3.25"/>
<circle cx="723.6" cy="772.2" r="3.25"/>
<circle cx="739.5" cy="770.6" r="3.25"/>
<circle cx="743.7" cy="779.6" r="3.25"/>
<circle cx="745.4" cy="622.6" r="3.25"/>
<circle cx="745.4" cy="628.2" r="3.25"/>
<circle cx="746.2" cy="641.1" r="3.25"/>
<circle cx="745.6" cy="648.4" r="3.25"/>
<circle cx="745.6" cy="654.0" r="3.25"/>
<circle cx="746.2" cy="673.1" r="3.25"/>
<circle cx="745.6" cy="679.9" r="3.25"/>
<circle cx="745.6" cy="685.5" r="3.25"/>
<circle cx="723.8" cy="635.0" r="3.25"/>
<circle cx="723.3" cy="647.3" r="3.25"/>
<circle cx="722.9" cy="661.9" r="3.25"/>
<circle cx="722.9" cy="666.4" r="3.25"/>
<circle cx="723.2" cy="675.4" r="3.25"/>
<circle cx="723.2" cy="679.9" r="3.25"/>
<circle cx="723.6" cy="691.1" r="3.25"/>
<circle cx="724.6" cy="695.6" r="3.25"/>
<circle cx="725.2" cy="591.1" r="3.25"/>
<circle cx="726.9" cy="596.7" r="3.25"/>
<circle cx="726.3" cy="600.7" r="3.25"/>
<circle cx="729.7" cy="603.5" r="3.25"/>
<circle cx="742.0" cy="590.6" r="3.25"/>
<circle cx="724.0" cy="696.7" r="3.25"/>
<circle cx="743.7" cy="697.9" r="3.25"/>
</g>
<polyline points="273.7,356.4 495.7,333.6 717.8,429.0" fill="none" stroke="#5DC4A1" stroke-width="5.6" stroke-linejoin="round" stroke-linecap="round"/>
<polyline points="290.1,661.0 512.2,634.0 734.7,656.2" fill="none" stroke="#FC8A5E" stroke-width="5.6" stroke-linejoin="round" stroke-linecap="round"/>
<line x1="273.7" x2="273.7" y1="79.6" y2="259.7" stroke="#525252" stroke-width="3.8"/>
<line x1="273.7" x2="273.7" y1="437.8" y2="574.3" stroke="#525252" stroke-width="3.8"/>
<line x1="270.09999999999997" x2="277.3" y1="79.6" y2="79.6" stroke="#525252" stroke-width="3.4" stroke-linecap="square"/>
<line x1="270.09999999999997" x2="277.3" y1="574.3" y2="574.3" stroke="#525252" stroke-width="3.4" stroke-linecap="square"/>
<rect x="265.6" y="259.7" width="16.30" height="178.10" fill="#5DC4A1" stroke="#525252" stroke-width="3.4"/>
<line x1="495.7" x2="495.7" y1="114.7" y2="268.2" stroke="#525252" stroke-width="3.8"/>
<line x1="495.7" x2="495.7" y1="388.3" y2="494.5" stroke="#525252" stroke-width="3.8"/>
<line x1="492.09999999999997" x2="499.3" y1="114.7" y2="114.7" stroke="#525252" stroke-width="3.4" stroke-linecap="square"/>
<line x1="492.09999999999997" x2="499.3" y1="494.5" y2="494.5" stroke="#525252" stroke-width="3.4" stroke-linecap="square"/>
<rect x="487.7" y="268.2" width="16.30" height="120.10" fill="#5DC4A1" stroke="#525252" stroke-width="3.4"/>
<line x1="717.8" x2="717.8" y1="289.1" y2="398.4" stroke="#525252" stroke-width="3.8"/>
<line x1="717.8" x2="717.8" y1="474.4" y2="587.6" stroke="#525252" stroke-width="3.8"/>
<line x1="714.1999999999999" x2="721.4" y1="289.1" y2="289.1" stroke="#525252" stroke-width="3.4" stroke-linecap="square"/>
<line x1="714.1999999999999" x2="721.4" y1="587.6" y2="587.6" stroke="#525252" stroke-width="3.4" stroke-linecap="square"/>
<rect x="709.9" y="398.4" width="16.50" height="76.00" fill="#5DC4A1" stroke="#525252" stroke-width="3.4"/>
<line x1="290.1" x2="290.1" y1="442.9" y2="615.7" stroke="#525252" stroke-width="3.8"/>
<line x1="290.1" x2="290.1" y1="730.4" y2="812.8" stroke="#525252" stroke-width="3.8"/>
<line x1="286.5" x2="293.70000000000005" y1="442.9" y2="442.9" stroke="#525252" stroke-width="3.4" stroke-linecap="square"/>
<line x1="286.5" x2="293.70000000000005" y1="812.8" y2="812.8" stroke="#525252" stroke-width="3.4" stroke-linecap="square"/>
<rect x="282.2" y="615.7" width="16.20" height="114.70" fill="#FC8A5E" stroke="#525252" stroke-width="3.4"/>
<line x1="512.2" x2="512.2" y1="479.7" y2="583.9" stroke="#525252" stroke-width="3.8"/>
<line x1="512.2" x2="512.2" y1="684.3" y2="783.6" stroke="#525252" stroke-width="3.8"/>
<line x1="508.6" x2="515.8000000000001" y1="479.7" y2="479.7" stroke="#525252" stroke-width="3.4" stroke-linecap="square"/>
<line x1="508.6" x2="515.8000000000001" y1="783.6" y2="783.6" stroke="#525252" stroke-width="3.4" stroke-linecap="square"/>
<rect x="504.2" y="583.9" width="16.60" height="100.40" fill="#FC8A5E" stroke="#525252" stroke-width="3.4"/>
<line x1="734.7" x2="734.7" y1="546.7" y2="619.0" stroke="#525252" stroke-width="3.8"/>
<line x1="734.7" x2="734.7" y1="693.0" y2="779.9" stroke="#525252" stroke-width="3.8"/>
<line x1="731.1" x2="738.3000000000001" y1="546.7" y2="546.7" stroke="#525252" stroke-width="3.4" stroke-linecap="square"/>
<line x1="731.1" x2="738.3000000000001" y1="779.9" y2="779.9" stroke="#525252" stroke-width="3.4" stroke-linecap="square"/>
<rect x="726.5" y="619.0" width="16.40" height="74.00" fill="#FC8A5E" stroke="#525252" stroke-width="3.4"/>
<path d="M290.6,358.29999999999995 L296.5,367.9 L290.6,377.5 L284.70000000000005,367.9 Z" fill="#4f4f4f"/>
<path d="M290.8,384.2 L296.7,393.8 L290.8,403.40000000000003 L284.90000000000003,393.8 Z" fill="#4f4f4f"/>
<path d="M718.2,250.79999999999998 L724.1,260.4 L718.2,270.0 L712.3000000000001,260.4 Z" fill="#4f4f4f"/>
<rect x="506.6" y="72.8" width="65.2" height="69.8" fill="#EEEEF4"/>
<rect x="513.2" y="83.5" width="48.8" height="17.3" fill="#71B7A1" stroke="#595959" stroke-opacity="0.6" stroke-width="1.5"/>
<rect x="513.2" y="118.3" width="48.8" height="15.3" fill="#E99575" stroke="#595959" stroke-opacity="0.6" stroke-width="1.5"/>
<text transform="translate(571.95,99.80) scale(1.0387,1)" font-size="25.29" font-weight="normal" fill="#000" stroke="#EAEAF2" stroke-width="0.25">Healthy participants</text>
<text transform="translate(571.98,133.30) scale(1.0440,1)" font-size="24.71" font-weight="normal" fill="#000" stroke="#EAEAF2" stroke-width="0.25">Parkinsonian patients</text>
<text transform="translate(124.85,33.70) scale(0.9826,1)" font-size="34.74" font-weight="bold" fill="#000">A</text>
<text transform="translate(308.10,33.60) scale(0.9053,1)" font-size="34.59" font-weight="bold" fill="#000">B</text>
<text transform="translate(551.83,33.27) scale(0.9114,1)" font-size="33.90" font-weight="bold" fill="#000">C</text>
<path d="M82.9,57.1 L85.6,57.1 L85.6,79.8 L82.9,79.8 L82.9,59.7 L79.2,59.7 Q78.8,59.6 78.8,59.1 L78.8,57.7 Q78.8,57.1 79.4,57.1 Z" fill="#000"/>
<text transform="translate(93.68,79.58) scale(1.1254,1)" font-size="32.34" font-weight="normal" fill="#000" stroke="#fff" stroke-width="0.25">0</text>
<text transform="translate(89.99,228.57) scale(1.0939,1)" font-size="33.90" font-weight="normal" fill="#000" stroke="#fff" stroke-width="0.25">8</text>
<text transform="translate(90.26,376.58) scale(1.0951,1)" font-size="33.05" font-weight="normal" fill="#000" stroke="#fff" stroke-width="0.25">6</text>
<text transform="translate(90.27,525.60) scale(1.0851,1)" font-size="33.29" font-weight="normal" fill="#000" stroke="#fff" stroke-width="0.25">4</text>
<text transform="translate(90.28,673.90) scale(1.0854,1)" font-size="33.37" font-weight="normal" fill="#000" stroke="#fff" stroke-width="0.25">2</text>
<text transform="translate(90.18,822.57) scale(1.0874,1)" font-size="33.47" font-weight="normal" fill="#000" stroke="#fff" stroke-width="0.25">0</text>
<text transform="translate(69.07,491.10) rotate(-90) scale(0.9661,1)" font-size="34.18" fill="#000">Score</text>
<text transform="translate(241.21,874.50) scale(1.0128,1)" font-size="28.92" font-weight="normal" fill="#000" stroke="#fff" stroke-width="0.25">Original</text>
<text transform="translate(259.83,906.80) scale(0.9946,1)" font-size="29.07" font-weight="normal" fill="#000" stroke="#fff" stroke-width="0.25">Data</text>
<text transform="translate(434.99,867.30) scale(1.0149,1)" font-size="28.49" font-weight="normal" fill="#000" stroke="#fff" stroke-width="0.25">Scanner</text>
<text transform="translate(418.35,899.10) scale(1.0495,1)" font-size="29.07" font-weight="normal" fill="#000" stroke="#fff" stroke-width="0.25">Correction</text>
<text transform="translate(407.89,921.90) scale(1.1221,1)" font-size="17.44" font-weight="normal" fill="#000">(Applying phantom</text>
<text transform="translate(410.56,942.70) scale(1.1096,1)" font-size="17.44" font-weight="normal" fill="#000">scanning data and</text>
<text transform="translate(376.08,963.40) scale(1.1187,1)" font-size="17.44" font-weight="normal" fill="#000">operation standardization)</text>
<text transform="translate(656.51,875.00) scale(1.0344,1)" font-size="28.34" font-weight="normal" fill="#000" stroke="#fff" stroke-width="0.25">ComBat</text>
<text transform="translate(639.45,907.00) scale(1.0609,1)" font-size="28.78" font-weight="normal" fill="#000" stroke="#fff" stroke-width="0.25">Correction</text>
</svg></body></html>
